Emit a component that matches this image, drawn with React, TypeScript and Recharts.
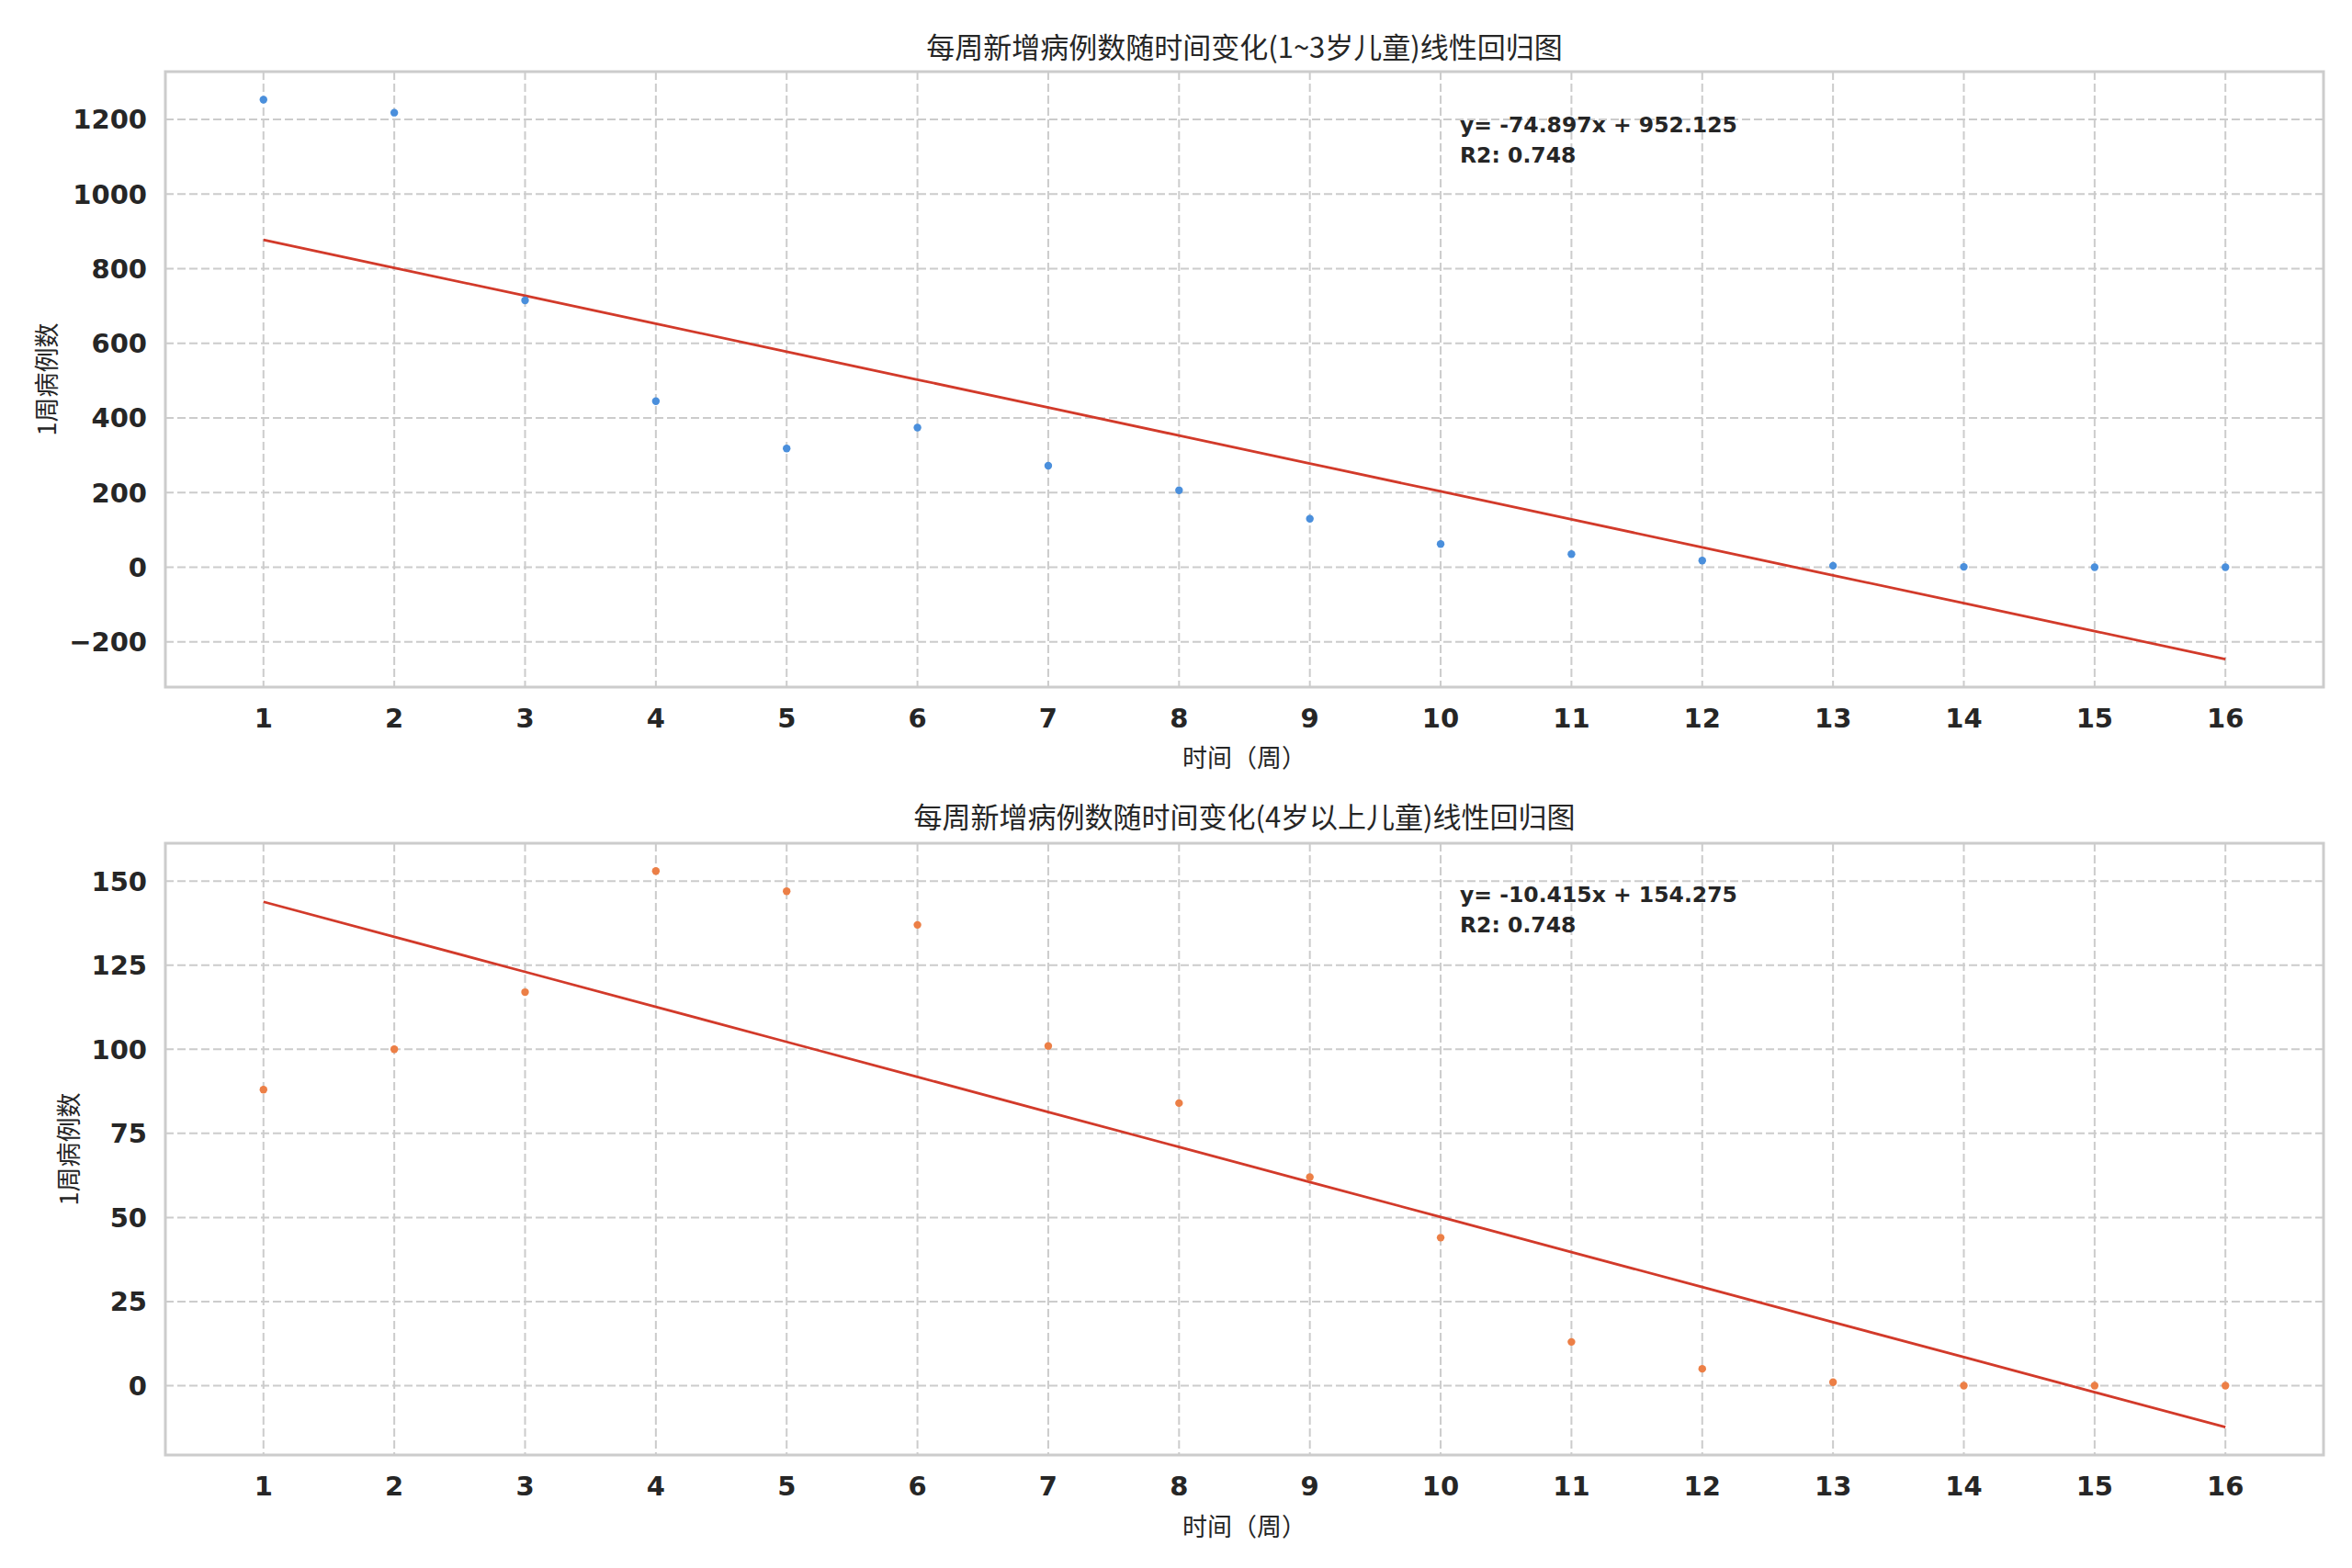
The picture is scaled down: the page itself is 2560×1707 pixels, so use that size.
import React from 'react';
import {
  ComposedChart,
  Scatter,
  Line,
  XAxis,
  YAxis,
  CartesianGrid,
  ReferenceArea,
} from 'recharts';

// week index on the x axis
const weeks = [1, 2, 3, 4, 5, 6, 7, 8, 9, 10, 11, 12, 13, 14, 15, 16];

// cases per week, 1~3 age group (top panel)
const youngCases = [1253, 1218, 715, 445, 318, 374, 272, 206, 130, 62, 35, 18, 4, 1, 0, 0];
// cases per week, 4+ age group (bottom panel)
const olderCases = [88, 100, 117, 153, 147, 137, 101, 84, 62, 44, 13, 5, 1, 0, 0, 0];

const topYTicks = [-200, 0, 200, 400, 600, 800, 1000, 1200];
const bottomYTicks = [0, 25, 50, 75, 100, 125, 150];

// fitted regression coefficients printed on the charts
const youngFit = [-74.897, 952.125, 0.748];
const olderFit = [-10.415, 154.275, 0.748];

const titles = [
  '每周新增病例数随时间变化(1~3岁儿童)线性回归图',
  '每周新增病例数随时间变化(4岁以上儿童)线性回归图',
];
const xLabel = '时间（周）';
const yLabel = '1周病例数';

const BLUE = '#4a8fdc';
const ORANGE = '#ec7f46';
const RED = '#d23a2a';
const GRID = '#cccccc';
const TEXT = '#262626';
const CJK = '"Noto Sans CJK SC", "DejaVu Sans", sans-serif';

const fmt = (v: number) => (v < 0 ? `\u2212${Math.abs(v)}` : String(v));

function Panel({
  values,
  fit,
  color,
  yTicks,
  height,
  marginTop,
  marginBottom,
}: {
  values: number[];
  fit: number[];
  color: string;
  yTicks: number[];
  height: number;
  marginTop: number;
  marginBottom: number;
}) {
  const [slope, intercept] = fit;
  const rows = weeks.map((w, i) => ({
    week: w,
    cases: values[i],
    fit: slope * w + intercept,
  }));
  // matplotlib-style 5% padding
  const all = [...values, ...rows.map((r) => r.fit)];
  const lo = Math.min(...all);
  const hi = Math.max(...all);
  const pad = (hi - lo) * 0.05;
  const yDomain = [lo - pad, hi + pad];
  const xDomain = [0.25, 16.75];

  const tickStyle = {
    fontSize: 29,
    fontWeight: 'bold' as const,
    fill: TEXT,
    fontFamily: '"DejaVu Sans", sans-serif',
  };

  return (
    <ComposedChart
      width={2560}
      height={height}
      data={rows}
      margin={{ top: marginTop, right: 31, left: 60, bottom: marginBottom }}
    >
      <CartesianGrid stroke={GRID} strokeWidth={2} strokeDasharray="9 4" />
      <XAxis
        dataKey="week"
        type="number"
        domain={xDomain}
        ticks={weeks}
        interval={0}
        allowDataOverflow
        axisLine={false}
        tickLine={false}
        tickSize={0}
        tickMargin={23}
        height={60}
        tick={tickStyle}
      />
      <YAxis
        type="number"
        domain={yDomain}
        ticks={yTicks}
        interval={0}
        allowDataOverflow
        axisLine={false}
        tickLine={false}
        tickSize={0}
        tickMargin={20}
        width={120}
        tick={tickStyle}
        tickFormatter={fmt}
      />
      <ReferenceArea
        x1={xDomain[0]}
        x2={xDomain[1]}
        y1={yDomain[0]}
        y2={yDomain[1]}
        fill="none"
        fillOpacity={0}
        stroke={GRID}
        strokeWidth={3}
        ifOverflow="visible"
      />
      <Line
        type="linear"
        dataKey="fit"
        stroke={RED}
        strokeWidth={2.8}
        dot={false}
        activeDot={false}
        isAnimationActive={false}
      />
      <Scatter
        dataKey="cases"
        fill={color}
        isAnimationActive={false}
        shape={(p: any) => <circle cx={p.cx} cy={p.cy} r={4.2} fill={color} />}
      />
    </ComposedChart>
  );
}

const abs = (style: React.CSSProperties): React.CSSProperties => ({
  position: 'absolute',
  color: TEXT,
  whiteSpace: 'nowrap',
  ...style,
});

export default function App() {
  const centerX = (180 + 2529) / 2;
  return (
    <div
      style={{
        position: 'absolute',
        left: 0,
        top: 0,
        width: 2560,
        height: 1707,
        background: '#ffffff',
        overflow: 'hidden',
      }}
    >
      <div style={{ position: 'absolute', left: 0, top: 0 }}>
        <Panel
          values={youngCases}
          fit={youngFit}
          color={BLUE}
          yTicks={topYTicks}
          height={853}
          marginTop={78}
          marginBottom={45}
        />
      </div>
      <div style={{ position: 'absolute', left: 0, top: 853 }}>
        <Panel
          values={olderCases}
          fit={olderFit}
          color={ORANGE}
          yTicks={bottomYTicks}
          height={854}
          marginTop={65}
          marginBottom={63}
        />
      </div>

      {/* titles */}
      <div style={abs({ left: centerX, top: 49, transform: 'translate(-50%, -50%)', fontSize: 31, fontFamily: CJK })}>
        {titles[0]}
      </div>
      <div style={abs({ left: centerX, top: 887, transform: 'translate(-50%, -50%)', fontSize: 31, fontFamily: CJK })}>
        {titles[1]}
      </div>

      {/* axis labels */}
      <div style={abs({ left: centerX, top: 823, transform: 'translate(-50%, -50%)', fontSize: 27, fontFamily: CJK })}>
        {xLabel}
      </div>
      <div style={abs({ left: centerX, top: 1660, transform: 'translate(-50%, -50%)', fontSize: 27, fontFamily: CJK })}>
        {xLabel}
      </div>
      <div style={abs({ left: 49, top: 413, transform: 'translate(-50%, -50%) rotate(-90deg)', fontSize: 27, fontFamily: CJK })}>
        {yLabel}
      </div>
      <div style={abs({ left: 73, top: 1251, transform: 'translate(-50%, -50%) rotate(-90deg)', fontSize: 27, fontFamily: CJK })}>
        {yLabel}
      </div>

      {/* regression annotations */}
      {[
        { fit: youngFit, top: 120 },
        { fit: olderFit, top: 958 },
      ].map(({ fit, top }, i) => (
        <div
          key={i}
          style={abs({
            left: 1589,
            top,
            fontSize: 23.5,
            lineHeight: '33px',
            fontWeight: 'bold',
            fontFamily: '"DejaVu Sans", sans-serif',
          })}
        >
          <div>{`y= ${fit[0].toFixed(3)}x + ${fit[1].toFixed(3)}`}</div>
          <div>{`R2: ${fit[2].toFixed(3)}`}</div>
        </div>
      ))}
    </div>
  );
}
